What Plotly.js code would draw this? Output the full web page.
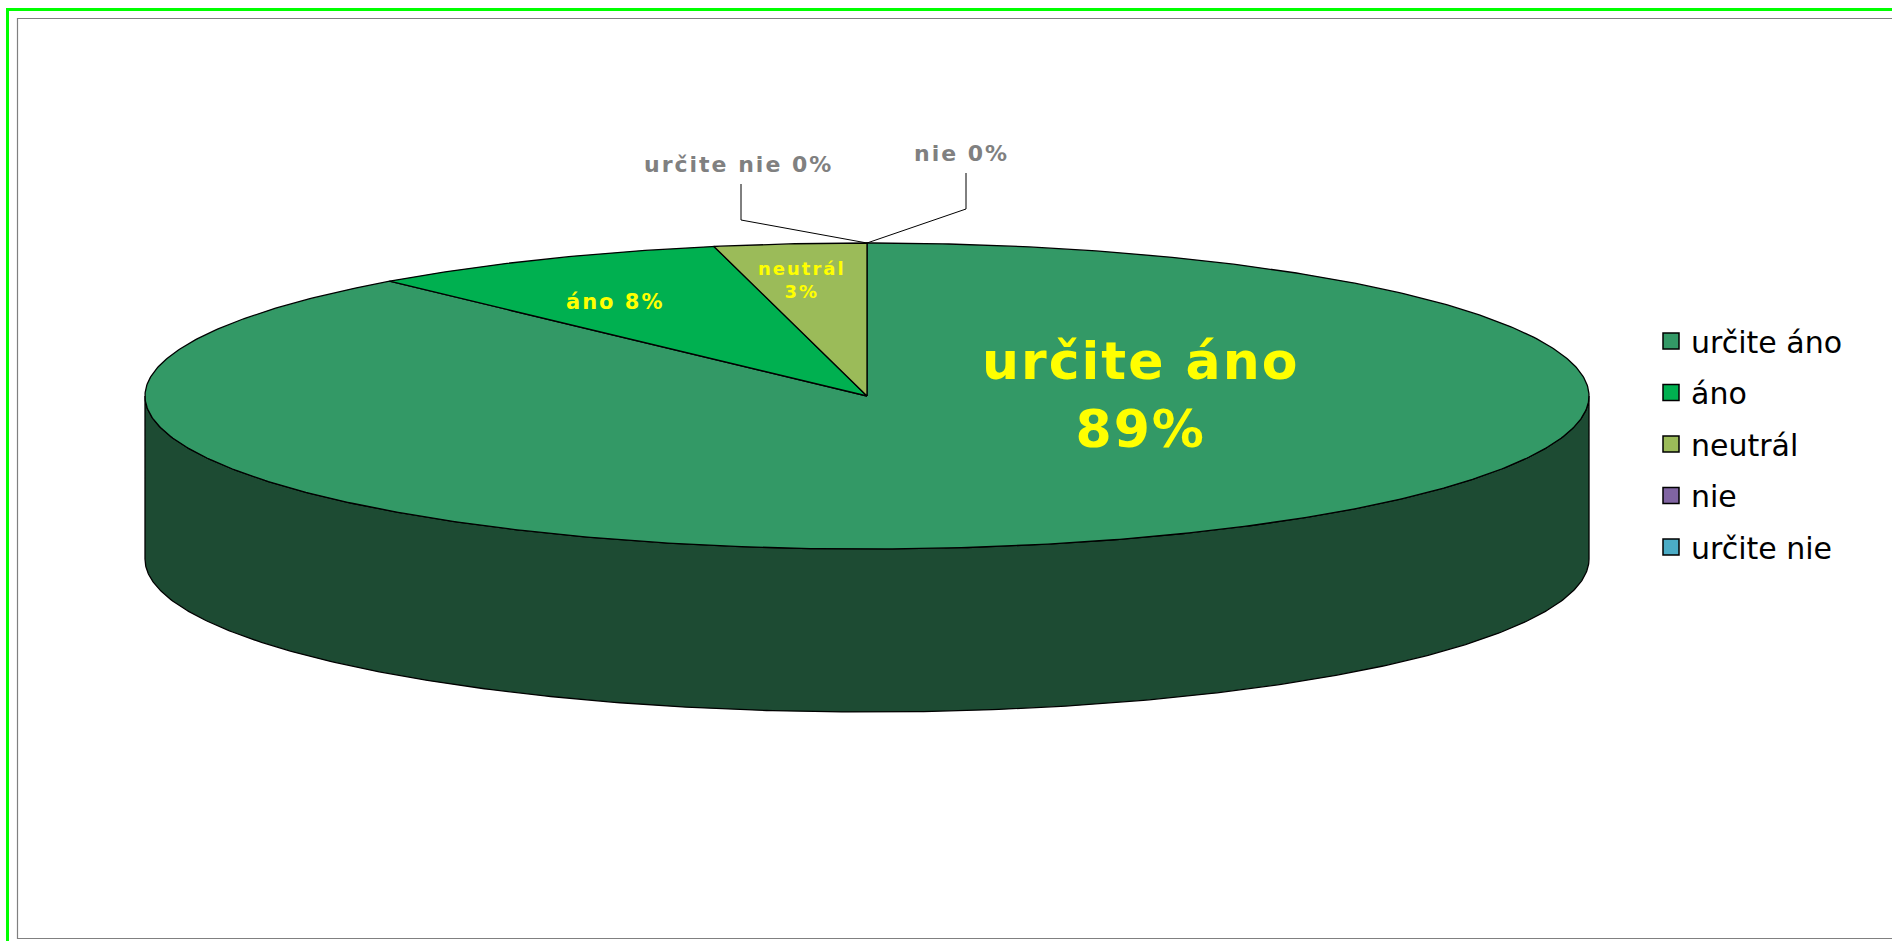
<!DOCTYPE html>
<html><head><meta charset="utf-8">
<script src="https://cdn.plot.ly/plotly-3.0.1.min.js"></script>
<style>
html,body{margin:0;padding:0;background:#fff}
#chart{width:1892px;height:941px}
#chart text.annotation-text{letter-spacing:2px}
</style>
</head><body><div id="chart"></div>
<script>
// ---- data ----
const categories = ['určite áno', 'áno', 'neutrál', 'nie', 'určite nie'];
const values = [88.5, 8.1, 3.4, 0, 0];
const topColors = ['#339966', '#00B050', '#9BBB59', '#8064A2', '#4BACC6'];
const sideColors = ['#1D4B33', '#005A2A', '#4F5F2D', '#41325A', '#265763'];
const pctLabels = values.map(v => Math.round(v) + '%');

// ---- geometry of the 3-D pie (pixel-like units of the hidden axes) ----
const CX = 867, CY = 396, RX = 722, RY = 153, DEPTH = 163, STEP = 0.5;
const total = values.reduce((a, b) => a + b, 0);
const rad = d => d * Math.PI / 180;
const px = (deg) => CX + RX * Math.sin(rad(deg));
const py = (deg, dz) => CY - RY * Math.cos(rad(deg)) + (dz || 0);

const starts = [], ends = [];
let acc = 0;
values.forEach(v => { starts.push(acc / total * 360); acc += v; ends.push(acc / total * 360); });

const traces = [];
// side walls (visible front half: 90..270 deg clockwise from top)
values.forEach((v, i) => {
  const a0 = Math.max(starts[i], 90), a1 = Math.min(ends[i], 270);
  if (v <= 0 || a1 <= a0) return;
  const xs = [], ys = [];
  for (let a = a0; a <= a1 + 1e-9; a += STEP) { xs.push(px(a)); ys.push(py(a)); }
  for (let a = a1; a >= a0 - 1e-9; a -= STEP) { xs.push(px(a)); ys.push(py(a, DEPTH)); }
  xs.push(xs[0]); ys.push(ys[0]);
  traces.push({type: 'scatter', mode: 'lines', x: xs, y: ys, fill: 'toself',
    fillcolor: sideColors[i], line: {color: '#000', width: 1.3},
    showlegend: false, hoverinfo: 'skip'});
});
// top slices
values.forEach((v, i) => {
  if (v <= 0) return;
  const xs = [CX], ys = [CY];
  const a0 = starts[i], a1 = ends[i];
  for (let a = a0; a < a1; a += STEP) { xs.push(px(a)); ys.push(py(a)); }
  xs.push(px(a1)); ys.push(py(a1));
  xs.push(CX); ys.push(CY);
  traces.push({type: 'scatter', mode: 'lines', x: xs, y: ys, fill: 'toself',
    fillcolor: topColors[i], line: {color: '#000', width: 1.3},
    showlegend: false, hoverinfo: 'text', text: categories[i] + ' ' + pctLabels[i]});
});
// legend entries
categories.forEach((c, i) => {
  traces.push({type: 'scatter', mode: 'markers', x: [null], y: [null], name: c,
    legendgroup: 'g' + i,
    marker: {symbol: 'square', size: 22, color: topColors[i], line: {color: '#000', width: 1.5}}});
});

// leader lines for the zero slices
const topX = px(360), topY = py(360);
const shapes = [
  {type: 'rect', xref: 'x', yref: 'y', x0: 7.5, y0: 9.5, x1: 1910, y1: 960,
   line: {color: '#00FF00', width: 3}, layer: 'below'},
  {type: 'rect', xref: 'x', yref: 'y', x0: 17.5, y0: 18.5, x1: 1910, y1: 938.5,
   line: {color: '#808080', width: 1.2}, layer: 'below'},
  {type: 'path', xref: 'x', yref: 'y', path: `M ${topX} ${topY} L 741 220 L 741 184`,
   line: {color: '#000', width: 1}},
  {type: 'path', xref: 'x', yref: 'y', path: `M ${topX} ${topY} L 966 209 L 966 173`,
   line: {color: '#000', width: 1}}
];

const F = 'DejaVu Sans, Verdana, sans-serif';
const annotations = [
  {x: 1140, y: 395, text: categories[0] + '<br>' + pctLabels[0],
   font: {family: F, size: 52, color: '#FFFF00', weight: 'bold'}},
  {x: 615, y: 302, text: categories[1] + ' ' + pctLabels[1],
   font: {family: F, size: 21, color: '#FFFF00', weight: 'bold'}},
  {x: 802, y: 280, text: categories[2] + '<br>' + pctLabels[2],
   font: {family: F, size: 18, color: '#FFFF00', weight: 'bold'}},
  {x: 738, y: 164, text: categories[4] + ' ' + pctLabels[4],
   font: {family: F, size: 22, color: '#808080', weight: 'bold'}},
  {x: 961, y: 153, text: categories[3] + ' ' + pctLabels[3],
   font: {family: F, size: 22, color: '#808080', weight: 'bold'}}
].map(a => Object.assign({xref: 'x', yref: 'y', showarrow: false, xanchor: 'center', yanchor: 'middle'}, a));

const layout = {
  width: 1892, height: 941,
  margin: {l: 0, r: 0, t: 0, b: 0, autoexpand: false},
  paper_bgcolor: '#fff', plot_bgcolor: '#fff',
  xaxis: {range: [0, 1892], visible: false, fixedrange: true},
  yaxis: {range: [941, 0], visible: false, fixedrange: true},
  showlegend: true,
  legend: {x: 1651 / 1892, xanchor: 'left', y: 1 - 315 / 941, yanchor: 'top',
    font: {family: F, size: 30, color: '#000'}, bgcolor: 'rgba(0,0,0,0)',
    tracegroupgap: 9.5, itemsizing: 'trace'},
  shapes: shapes,
  annotations: annotations,
  hovermode: 'closest'
};

Plotly.newPlot('chart', traces, layout, {displayModeBar: false});
</script>
</body></html>
